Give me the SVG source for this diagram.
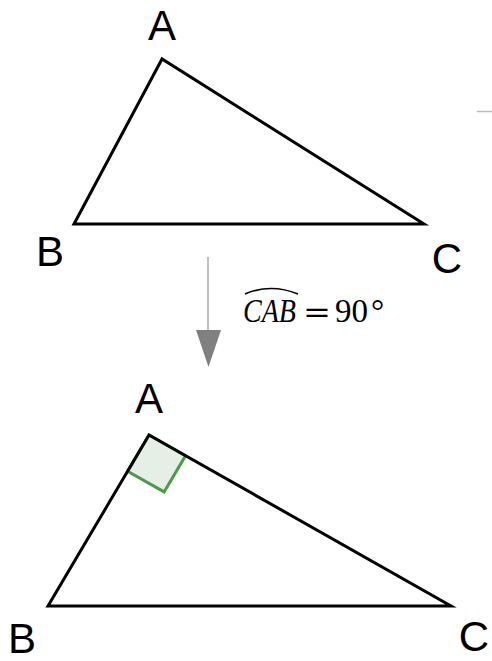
<svg xmlns="http://www.w3.org/2000/svg" width="492" height="661" viewBox="0 0 492 661">
<defs>
<style>
.tri{fill:none;stroke:#000;stroke-width:3;stroke-linejoin:miter}
.lbl{font-family:"Liberation Sans",Arial,sans-serif;font-size:42px;fill:#000;text-anchor:middle}
.math{font-family:"Liberation Serif","Times New Roman",serif;font-size:33px;fill:#000}
</style>
</defs>
<rect width="492" height="661" fill="#fff"/>
<g id="triangle1">
<polygon class="tri" points="162,59 74,224 424,224"/>
<text class="lbl" x="162" y="40">A</text>
<text class="lbl" x="50" y="266">B</text>
<text class="lbl" x="447" y="273">C</text>
</g>
<g id="triangle2">
<path d="M149,435 L185.5,455.7 L164.1,491.9 L127.6,471.2 Z" fill="#e6efe6" stroke="#4a9a4a" stroke-width="3"/>
<polygon class="tri" points="149,435 48,606 451,606"/>
<text class="lbl" x="149" y="413">A</text>
<text class="lbl" x="22" y="653">B</text>
<text class="lbl" x="474" y="651">C</text>
</g>
<g id="connectors">
<line x1="208" y1="257" x2="208" y2="332" stroke="#aaa" stroke-width="1.5"/>
<polygon points="196,330 221,330 208.5,367" fill="#808080"/>
<line x1="477" y1="111.5" x2="492" y2="111.5" stroke="#bbb" stroke-width="1.5"/>
</g>
<g id="label">
<path d="M245,294 Q271,283 298,294" fill="none" stroke="#000" stroke-width="1.5"/>
<text class="math" x="243" y="322" font-style="italic" textLength="53" lengthAdjust="spacingAndGlyphs">CAB</text>
<text x="303" y="322" font-family="'DejaVu Serif',serif" font-size="30" textLength="28" lengthAdjust="spacingAndGlyphs">=</text>
<text class="math" x="335" y="322">90</text>
<text class="math" x="371" y="322" font-size="30">°</text>
</g>
</svg>
